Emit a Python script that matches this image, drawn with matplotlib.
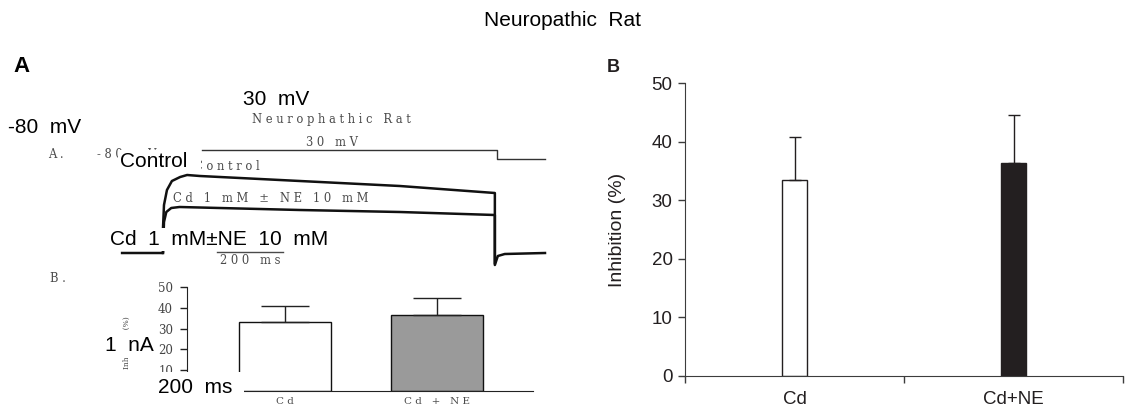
import matplotlib.pyplot as plt

W, H = 1126, 413

# panel B: inhibition of the current
groups = ["Cd", "Cd+NE"]
inhibition = [33.4, 36.4]
inhibition_sem = [7.4, 8.1]

# bar chart inside the scanned panel A
inset_groups = ["Cd", "Cd + NE"]
inset_inhibition = [33.3, 36.3]
inset_sem = [7.4, 8.2]
inset_yticks = [10, 20, 30, 40, 50]

# current traces (ms from step onset, nA)
control_t = [-124, 0, 0, 3, 12, 27, 52, 73, 112, 415, 718, 1006, 1006, 1015, 1036, 1158]
control_i = [0, 0, 0.5, 0.96, 1.26, 1.44, 1.52, 1.56, 1.54, 1.44, 1.34, 1.2, -0.24, -0.06, -0.02, 0]
cd_ne_t = [0, 3, 10, 25, 50, 415, 718, 1006, 1006]
cd_ne_i = [0, 0.62, 0.82, 0.9, 0.92, 0.86, 0.82, 0.76, -0.2]

# voltage protocol (ms, mV)
step_t = [0, 894, 894, 1040]
step_mv = [30, 30, -80, -80]
scale_ms = 200

plt.rcParams['font.family'] = ['Liberation Sans', 'DejaVu Sans']
SERIF = 'DejaVu Serif'
GREY = '#4a4a4a'

fig = plt.figure(figsize=(W / 100, H / 100), dpi=100)


def px_axes(l, t, r, b):
    return fig.add_axes([l / W, 1 - b / H, (r - l) / W, (b - t) / H])


def txt(x, y, s, **kw):
    return fig.text(x / W, 1 - y / H, s, **kw)


def spread(s):
    return " ".join(s)


# ---- panel A: traces ----
ax_tr = px_axes(163, 175, 545, 265)
ax_tr.set_xlim(0, 1158)
ax_tr.set_ylim(-0.24, 1.56)
ax_tr.axis('off')
ax_tr.plot(control_t, control_i, color='#111111', lw=1.8, clip_on=False)
ax_tr.plot(cd_ne_t, cd_ne_i, color='#111111', lw=1.8, clip_on=False)
ax_tr.plot([164, 164 + scale_ms], [0.02, 0.02], color=GREY, lw=1, clip_on=False)

ax_v = px_axes(202, 150, 545, 159)
ax_v.set_xlim(0, 1040)
ax_v.set_ylim(-80, 30)
ax_v.axis('off')
ax_v.plot(step_t, step_mv, color='#333333', lw=1, clip_on=False)

# ---- panel A: inset bars ----
ax_in = px_axes(187, 287, 533, 391)
ax_in.bar([0, 1], inset_inhibition, width=0.605, color=['white', '#9a9a9a'],
          edgecolor='#111111', lw=1)
ax_in.errorbar([0, 1], inset_inhibition, yerr=[[0, 0], inset_sem], fmt='none',
               ecolor='#222222', elinewidth=1, capsize=17, capthick=1)
ax_in.set_xlim(-0.645, 1.632)
ax_in.set_ylim(0, 50)
ax_in.set_yticks(inset_yticks)
ax_in.set_yticklabels([str(v) for v in inset_yticks], fontfamily=SERIF, fontsize=8.5, color='#444444')
ax_in.set_xticks([0, 1])
ax_in.set_xticklabels([spread(g) for g in inset_groups], fontfamily=SERIF, fontsize=7.5, color=GREY)
ax_in.tick_params(axis='y', length=5, width=1, pad=5, color='#222222')
ax_in.tick_params(axis='x', length=0, pad=4)
for side in ['top', 'right']:
    ax_in.spines[side].set_visible(False)
for side in ['left', 'bottom']:
    ax_in.spines[side].set_color('#222222')
ax_in.patch.set_alpha(0)

# scanned (grey serif) labels
serif = dict(fontfamily=SERIF, fontsize=8.3, color=GREY, va='center')
txt(331, 119, spread("Neurophathic Rat"), ha='center', **serif)
txt(332, 143, spread("30 mV"), ha='center', **serif)
txt(48, 155, spread("A."), **serif)
txt(97, 155, spread("-80 mV"), **serif)
txt(194, 167, spread("Control"), **serif)
txt(173, 198, spread("Cd 1 mM ± NE 10 mM"), **serif)
txt(250, 260, spread("200 ms"), ha='center', **serif)
txt(50, 278, spread("B."), **serif)
txt(127, 343, "Inhibition (%)", fontfamily=SERIF, fontsize=5.5, color=GREY, rotation=90,
    ha='center', va='center')

# overlaid black labels
box = dict(facecolor='white', edgecolor='none', boxstyle='square,pad=0.1')
txt(243, 105, "30  mV", fontsize=15, va='baseline')
txt(8, 133, "-80  mV", fontsize=15, va='baseline')
txt(120, 167, "Control  ", fontsize=15, va='baseline', bbox=box)
txt(110, 245, "Cd  1  mM±NE  10  mM", fontsize=15, va='baseline', bbox=box)
txt(105, 351, "1  nA", fontsize=15, va='baseline',
    bbox=dict(facecolor='white', edgecolor='none', boxstyle='square,pad=0.15'))
txt(158, 393, "200  ms ", fontsize=15, va='baseline',
    bbox=dict(facecolor='white', edgecolor='none', boxstyle='square,pad=0.3'))

# ---- panel B ----
ax_b = px_axes(685, 83, 1123, 376)
ax_b.bar([0.5, 1.5], inhibition, width=0.11, color=['white', '#231f20'],
         edgecolor='#231f20', lw=1)
ax_b.errorbar([0.5, 1.5], inhibition, yerr=[[0, 0], inhibition_sem], fmt='none',
              ecolor='#231f20', elinewidth=1, capsize=4, capthick=1)
ax_b.set_xlim(0, 2)
ax_b.set_ylim(0, 50)
ax_b.set_xticks([0, 1, 2])
ax_b.set_xticklabels([])
ax_b.set_xticks([0.5, 1.5], minor=True)
ax_b.set_xticklabels(groups, minor=True, fontsize=13.5, color='#231f20')
ax_b.set_yticks(range(0, 51, 10))
ax_b.tick_params(axis='y', length=5, width=1, pad=4, labelsize=13.5, labelcolor='#231f20', color='#3c3c3c')
ax_b.tick_params(axis='x', which='major', length=5, width=1, color='#3c3c3c')
ax_b.tick_params(axis='x', which='minor', length=0, pad=11)
for side in ['top', 'right']:
    ax_b.spines[side].set_visible(False)
for side in ['left', 'bottom']:
    ax_b.spines[side].set_color('#3c3c3c')
ax_b.set_ylabel("Inhibition (%)", fontsize=14, color='#231f20')
ax_b.yaxis.set_label_coords((626 - 685) / 438, 0.5)

txt(13, 72, "A", fontsize=16, fontweight='bold', va='baseline')
txt(607, 72, "B", fontsize=13, fontweight='bold', va='baseline', color='#231f20')
txt(563, 26, "Neuropathic  Rat", fontsize=15, ha='center', va='baseline')

fig.savefig('out.png', dpi=100)
